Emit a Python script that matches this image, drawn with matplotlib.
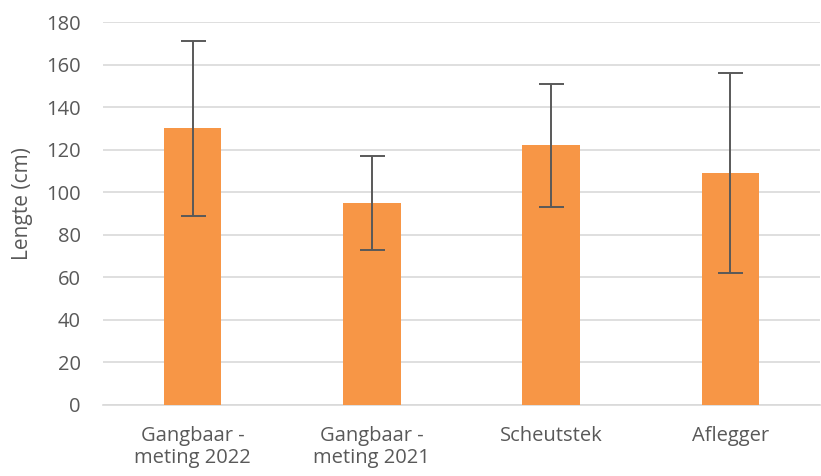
import matplotlib
matplotlib.use("Agg")
import matplotlib.pyplot as plt
import numpy as np

categories = ["Gangbaar -\nmeting 2022", "Gangbaar -\nmeting 2021", "Scheutstek", "Aflegger"]
values = [130, 95, 122, 109]
errors = [41, 22, 29, 47]
yticks = [0, 20, 40, 60, 80, 100, 120, 140, 160, 180]

plt.rcParams['font.family'] = ['Open Sans', 'DejaVu Sans']
fig = plt.figure(figsize=(8.21, 4.76), dpi=100)
ax = fig.add_axes([103/821, (476-405)/476, (820-103)/821, (405-22)/476])

x = np.arange(len(categories))
ax.bar(x, values, width=0.32, color="#F79646", zorder=3)
ax.errorbar(x, values, yerr=errors, fmt='none', ecolor="#595959", elinewidth=1.4,
            capsize=9, capthick=1.4, zorder=4)

ax.set_ylim(0, 180)
ax.set_xlim(-0.5, len(categories) - 0.5)
ax.set_yticks(yticks)
ax.set_xticks(x)
ax.set_xticklabels(categories, linespacing=1.15)
ax.yaxis.grid(True, color="#D9D9D9", linewidth=1.2, zorder=0)
for s in ['top', 'right', 'left']:
    ax.spines[s].set_visible(False)
ax.spines['bottom'].set_color("#D9D9D9")
ax.spines['bottom'].set_linewidth(1.2)
ax.tick_params(axis='both', length=0, labelsize=14.5, colors="#595959")
ax.tick_params(axis='y', pad=16)
ax.tick_params(axis='x', pad=15)
ax.set_ylabel("Lengte (cm)", fontsize=15, color="#595959")
ax.yaxis.set_label_coords(-70/717, 0.525)

fig.savefig("out.png", dpi=100)
